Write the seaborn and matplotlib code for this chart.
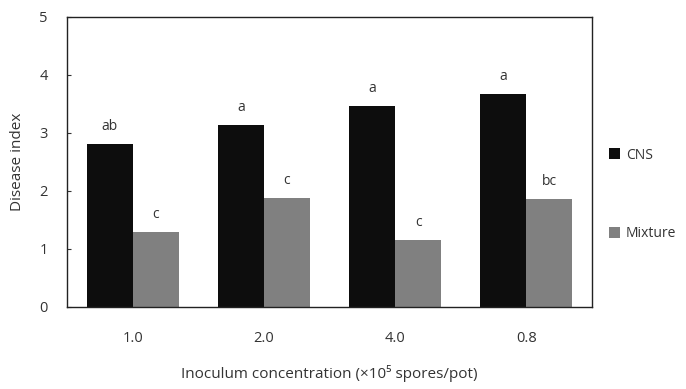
import matplotlib
matplotlib.use("Agg")
import matplotlib.pyplot as plt
import seaborn as sns
import pandas as pd

categories = ["1.0", "2.0", "4.0", "0.8"]
cns = [2.81, 3.14, 3.47, 3.67]
mixture = [1.29, 1.88, 1.16, 1.86]
cns_letters = ["ab", "a", "a", "a"]
mix_letters = ["c", "c", "c", "bc"]
series = ["CNS", "Mixture"]

df = pd.DataFrame({
    "conc": categories * 2,
    "value": cns + mixture,
    "series": [series[0]] * len(categories) + [series[1]] * len(categories),
})

sns.set_style("white")
plt.rcParams["font.family"] = ["Open Sans", "DejaVu Sans"]
text_color = "#333333"

fig = plt.figure(figsize=(6.86, 3.89), dpi=100)
ax = fig.add_axes([67/686, 1-307/389, (592-67)/686, (307-17)/389])

sns.barplot(data=df, x="conc", y="value", hue="series", order=categories,
            hue_order=series, palette=["#0d0d0d", "#808080"], width=0.7,
            saturation=1, linewidth=0, ax=ax, errorbar=None)

for cont, labs in zip(ax.containers, [cns_letters, mix_letters]):
    ax.bar_label(cont, labels=labs, padding=7, fontsize=10, color=text_color)

ax.set_ylim(0, 5)
ax.set_yticks([0, 1, 2, 3, 4, 5])
ax.set_xlabel("Inoculum concentration (\u00d710\u2075 spores/pot)", fontsize=11,
              color=text_color, labelpad=14)
ax.set_ylabel("Disease index", fontsize=11, color=text_color, labelpad=10)
ax.tick_params(axis="y", direction="in", length=3, left=True, colors=text_color,
               labelsize=10.5, pad=14)
ax.tick_params(axis="x", length=0, labelsize=10.5, colors=text_color, pad=17)
for s in ax.spines.values():
    s.set_color("#222222")
    s.set_linewidth(1.0)

handles, labels = ax.get_legend_handles_labels()
ax.legend_.remove()
fig.legend(handles, labels, loc="center left", bbox_to_anchor=(0.87, 0.5),
           frameon=False, handlelength=0.8, handleheight=0.8, handletextpad=0.4,
           labelspacing=4.6, fontsize=10, labelcolor=text_color)

fig.savefig("out.png", dpi=100)
